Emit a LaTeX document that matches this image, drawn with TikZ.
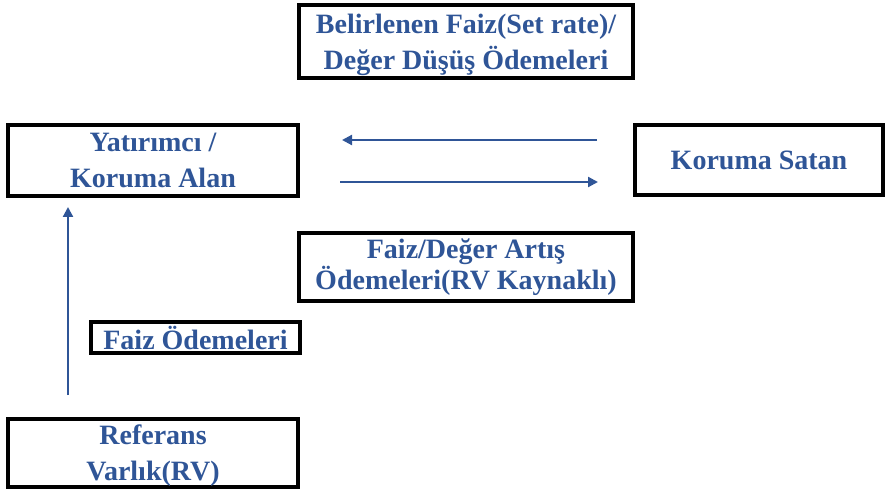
\documentclass[tikz,border=0pt]{standalone}
\usepackage{fontspec}
\setmainfont{Liberation Serif}
\usetikzlibrary{arrows.meta}
\definecolor{flowblue}{HTML}{2F5597}
\begin{document}
\begin{tikzpicture}[x=1pt,y=-1pt,
  box/.style={draw=black,line width=4pt,fill=white,inner sep=0pt,
    align=center,text=flowblue,
    font=\bfseries\fontsize{28}{36}\selectfont},
  flow/.style={draw=flowblue,line width=2.2pt,
    -{Triangle[length=10pt,width=10pt]}}]
\useasboundingbox (0,0) rectangle (885,494);

% boxes
\node[box,minimum width=334pt,minimum height=73pt,text depth=0pt] (rate) at (466,41.5)
  {Belirlenen Faiz(Set rate)/\\Değer Düşüş Ödemeleri};
\node[box,minimum width=290pt,minimum height=71pt] (buyer) at (153,160.5)
  {Yatırımcı /\\Koruma Alan};
\node[box,minimum width=248pt,minimum height=70pt] (seller) at (759,160)
  {Koruma Satan};
\node[box,minimum width=334pt,minimum height=68pt,
  font=\bfseries\fontsize{28}{31}\selectfont] (gain) at (466,267)
  {Faiz/Değer Artış\\Ödemeleri(RV Kaynaklı)};
\node[box,minimum width=209pt,minimum height=31pt] (coupon) at (195.5,337.5)
  {Faiz Ödemeleri};
\node[box,minimum width=290pt,minimum height=68pt,text depth=0pt] (ref) at (153,453)
  {Referans\\Varlık(RV)};

% arrow end points
\coordinate (topR) at (597,140);
\coordinate (topL) at (342,140);
\coordinate (botL) at (340,182);
\coordinate (botR) at (598,182);
\coordinate (upB) at (68,395);
\coordinate (upT) at (68,207);

% connectors
\draw[flow] (topR) -- (topL);
\draw[flow] (botL) -- (botR);
\draw[flow] (upB) -- (upT);
\end{tikzpicture}
\end{document}
